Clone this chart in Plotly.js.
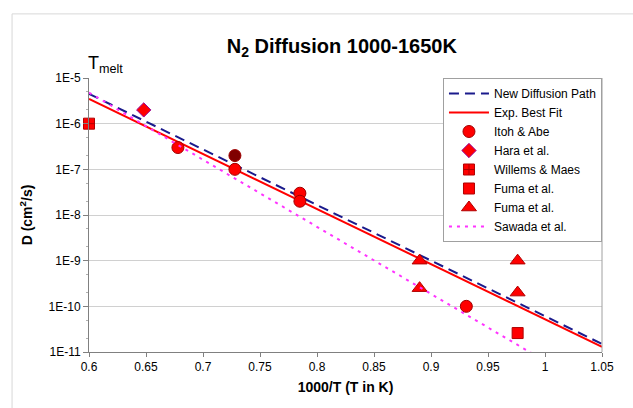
<!DOCTYPE html>
<html>
<head>
<meta charset="utf-8">
<script src="https://cdn.plot.ly/plotly-3.0.1.min.js"></script>
<style>
  html, body { margin: 0; padding: 0; background: #fff; }
  #chart { width: 633px; height: 408px; }
</style>
</head>
<body>
<div id="chart"></div>
<script>
// ---- Data ----
const pathX = [0.6, 1.05];
const pathY = [4.5e-6, 1.5e-11];

const fitX = [0.6, 1.05];
const fitY = [3.5e-6, 1.3e-11];

const itohX = [0.678, 0.728, 0.728, 0.785, 0.785, 0.931];
const itohY = [3e-7, 1e-7, 2e-7, 3e-8, 2e-8, 1e-10];
const itohColors = ['#ff0000', '#ff0000', '#800000', '#ff0000', '#ff0000', '#ff0000'];

const haraX = [0.648];
const haraY = [2e-6];

const willemsX = [0.6];
const willemsY = [1e-6];

const fumaSqX = [0.976];
const fumaSqY = [2.6e-11];

const fumaTriX = [0.89, 0.89, 0.976, 0.976];
const fumaTriY = [1e-9, 2.5e-10, 1e-9, 2e-10];

const sawadaX = [0.6, 0.995];
const sawadaY = [4.8e-6, 7.5e-12];

const yTickVals = [1e-5, 1e-6, 1e-7, 1e-8, 1e-9, 1e-10, 1e-11];
const yTickText = ['1E-5', '1E-6', '1E-7', '1E-8', '1E-9', '1E-10', '1E-11'];
const xTickVals = [0.6, 0.65, 0.7, 0.75, 0.8, 0.85, 0.9, 0.95, 1, 1.05];
const xTickText = ['0.6', '0.65', '0.7', '0.75', '0.8', '0.85', '0.9', '0.95', '1', '1.05'];

const FONT = 'Arial, "Liberation Sans", sans-serif';

const traces = [
  { x: pathX, y: pathY, mode: 'lines', name: 'New Diffusion Path',
    line: { color: '#1a1a8c', width: 2, dash: '10px,6px' } },
  { x: fitX, y: fitY, mode: 'lines', name: 'Exp. Best Fit',
    line: { color: '#ff0000', width: 2 } },
  { x: itohX, y: itohY, mode: 'markers', name: 'Itoh &amp; Abe',
    marker: { symbol: 'circle', size: 12, color: itohColors, line: { color: '#a00000', width: 1 } } },
  { x: haraX, y: haraY, mode: 'markers', name: 'Hara et al.',
    marker: { symbol: 'diamond', size: 11, color: '#ff0000', line: { color: '#990099', width: 1 } } },
  { x: willemsX, y: willemsY, mode: 'markers', name: 'Willems &amp; Maes',
    marker: { symbol: 'square-cross', size: 11, color: '#ff0000', line: { color: '#b00000', width: 1 } }, cliponaxis: false },
  { x: fumaSqX, y: fumaSqY, mode: 'markers', name: 'Fuma et al.',
    marker: { symbol: 'square', size: 11, color: '#ff0000', line: { color: '#b00000', width: 1 } } },
  { x: fumaTriX, y: fumaTriY, mode: 'markers', name: 'Fuma et al.',
    marker: { symbol: 'triangle-up', size: 13, color: '#ff0000', line: { color: '#b00000', width: 1 } } },
  { x: sawadaX, y: sawadaY, mode: 'lines', name: 'Sawada et al.',
    line: { color: '#ff33ff', width: 2, dash: '3px,5px' } }
];

const layout = {
  width: 633, height: 408,
  margin: { l: 89, r: 31, t: 78, b: 56 },
  paper_bgcolor: '#ffffff', plot_bgcolor: '#ffffff',
  font: { family: FONT, color: '#000000', size: 11 },
  title: {
    text: '<b>N<sub>2</sub> Diffusion 1000-1650K</b>',
    font: { family: FONT, size: 20, color: '#000' },
    x: 0.54, xanchor: 'center', xref: 'container',
    y: 0.888, yanchor: 'middle', yref: 'container'
  },
  xaxis: {
    type: 'linear', range: [0.6, 1.05],
    tickvals: xTickVals, ticktext: xTickText,
    ticks: 'outside', ticklen: 4, tickcolor: '#808080',
    showline: true, linecolor: '#808080', linewidth: 1, mirror: false,
    showgrid: false, zeroline: false,
    tickfont: { family: FONT, size: 12, color: '#000' },
    title: { text: '<b>1000/T (T in K)</b>', font: { family: FONT, size: 14, color: '#000' }, standoff: 8 }
  },
  yaxis: {
    type: 'log', range: [-11, -5],
    tickvals: yTickVals, ticktext: yTickText,
    ticks: 'outside', ticklen: 5, tickcolor: '#808080',
    minor: { ticks: 'outside', ticklen: 2, tickcolor: '#b0b0b0', showgrid: false },
    showline: true, linecolor: '#808080', linewidth: 1,
    showgrid: true, gridcolor: '#d0d0d0', gridwidth: 1, zeroline: false,
    tickfont: { family: FONT, size: 12, color: '#000' },
    title: { text: '<b>D (cm<sup>2</sup>/s)</b>', font: { family: FONT, size: 14, color: '#000' }, standoff: 12 }
  },
  legend: {
    x: 0.69, xanchor: 'left', y: 1.0, yanchor: 'top',
    bgcolor: '#ffffff', bordercolor: '#a0a0a0', borderwidth: 1,
    font: { family: FONT, size: 12, color: '#000' },
    tracegroupgap: 0, itemwidth: 40
  },
  showlegend: true,
  shapes: [
    { type: 'line', xref: 'paper', yref: 'paper', x0: 1, x1: 1, y0: 0, y1: 1,
      line: { color: '#a0a0a0', width: 1 } },
    { type: 'rect', xref: 'paper', yref: 'paper', x0: -0.150, x1: 1.3, y0: -0.6, y1: 1.234,
      line: { color: '#d8d8d8', width: 1 }, layer: 'below' }
  ],
  annotations: [
    { text: 'T<sub>melt</sub>', xref: 'x', yref: 'paper', x: 0.6, y: 1.0,
      xanchor: 'left', yanchor: 'bottom', showarrow: false, xshift: -3, yshift: 0,
      font: { family: FONT, size: 18, color: '#000' } }
  ]
};

Plotly.newPlot('chart', traces, layout, { displayModeBar: false, staticPlot: true });
</script>
</body>
</html>
